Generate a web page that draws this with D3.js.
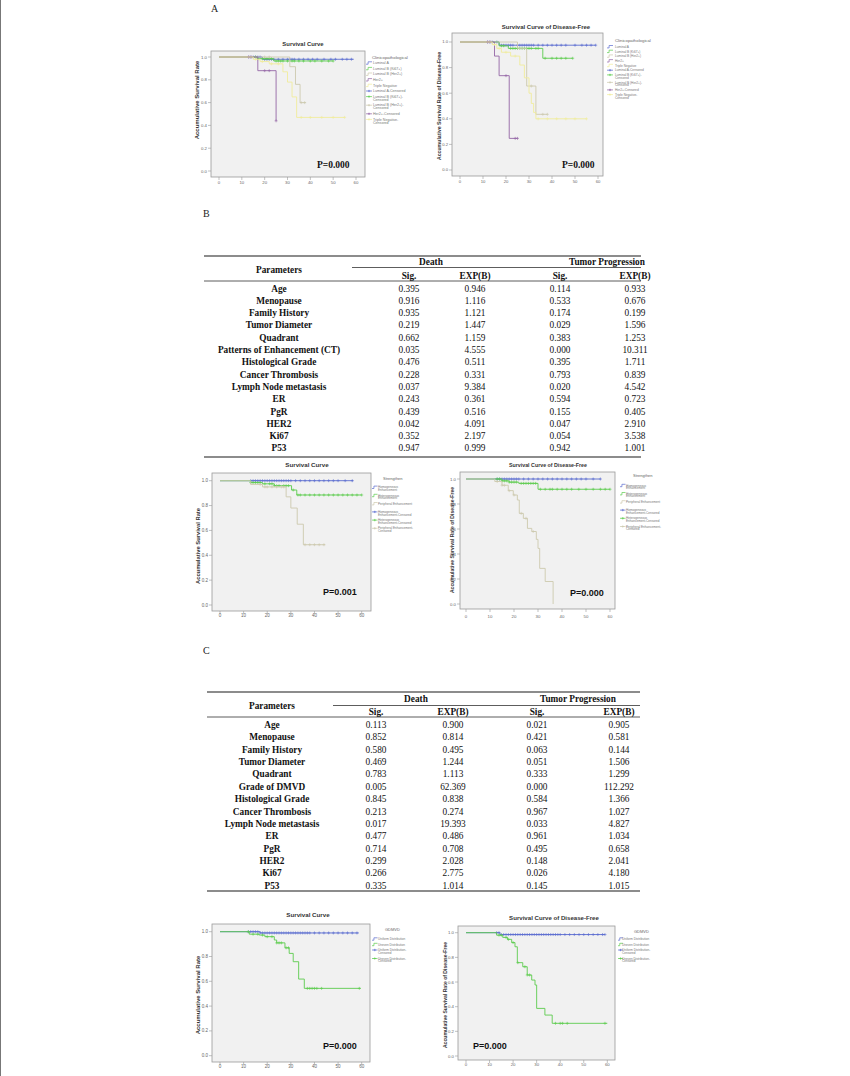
<!DOCTYPE html>
<html><head><meta charset="utf-8">
<script src="https://cdn.jsdelivr.net/npm/d3@7"></script>
<style>body{margin:0;background:#fff} svg{display:block}</style>
</head><body>
<script>
// ---------------- DATA ----------------
const xTicks = [0,10,20,30,40,50,60];
const yTicks = [0,0.2,0.4,0.6,0.8,1.0];
const yTickLabels = ['0.0','0.2','0.4','0.6','0.8','1.0'];

// Panel A – molecular subtypes
const legendA = [['Luminal A'],['Luminal B (Ki67+)'],['Luminal B (Her2+)'],['Her2+'],['Triple Negative'],
  ['Luminal A-Censored'],['Luminal B (Ki67+)-','Censored'],['Luminal B (Her2+)-','Censored'],['Her2+-Censored'],['Triple Negative-','Censored']];
// Survival (death)
const a1LumA   = [[0,1],[19,0.98]];             const a1LumAEnd = 59;
const a1LumB67 = [[0,1],[17,0.985],[24,0.965]]; const a1LumB67End = 50;
const a1LumBH  = [[0,1],[31,0.915],[33.5,0.76],[35.5,0.60]]; const a1LumBHEnd = 38;
const a1Her2   = [[0,1],[17,0.88],[25,0.44]];   const a1Her2End = 25;
const a1TN     = [[0,1],[15,0.98],[18,0.96],[22,0.94],[28,0.87],[30,0.78],[32,0.65],[34,0.47]]; const a1TNEnd = 55;
const a1LumACens   = [13,14,15,16,17,18,20,21,22,23,24,26,28,30,31,32,33,35,37,39,41,43,46,49,51,54,56,58];
const a1LumB67Cens = [16,17,19,20,21,22,23,25,26,27,28,30,32,33,35,37,40,42,45,48,50];
const a1LumBHCens  = [20,22,36,37.5];
const a1Her2Cens   = [13,14,20,22,25];
const a1TNCens     = [16,19,23,26,36,40,45,50,55];
// Disease-free
const a2LumA   = [[0,1],[17,0.975]];            const a2LumAEnd = 59;
const a2LumB67 = [[0,1],[17,0.97],[21,0.95],[36,0.873]]; const a2LumB67End = 49;
const a2LumBH  = [[0,1],[25,0.95],[29,0.656],[33,0.435]]; const a2LumBHEnd = 38;
const a2Her2   = [[0,1],[15,0.89],[17,0.737],[21.4,0.247]]; const a2Her2End = 25;
const a2TN     = [[0,1],[14,0.98],[16,0.95],[18,0.92],[22,0.89],[26,0.82],[28,0.72],[30,0.6],[31,0.52],[32,0.45],[33,0.40]]; const a2TNEnd = 55;
const a2LumACens   = [12,13,14,16,18,19,20,21,22,23,25,26,27,28,29,30,31,32,34,36,38,40,42,44,46,50,53,55,57,59];
const a2LumB67Cens = [18,19,22,23,24,25,26,27,28,29,30,31,33,34,37,40,42,44,46,49];
const a2LumBHCens  = [31,36,38];
const a2Her2Cens   = [12,13,20,24,25];
const a2TNCens     = [15,17,20,24,34,38,42,46,50,55];

// Panel B – enhancement patterns
const legendB = [['Homogeneous','Enhancement'],['Heterogeneous','Enhancement'],['Peripheral Enhancement'],
  ['Homogeneous','Enhancement-Censored'],['Heterogeneous','Enhancement-Censored'],['Peripheral Enhancement-','Censored']];
const b1Homo = [[0,1]]; const b1HomoEnd = 56.4;
const b1Het  = [[0,1],[13,0.985],[18,0.975],[23,0.96],[30.3,0.925],[32.5,0.885]]; const b1HetEnd = 60;
const b1Per  = [[0,1],[13,0.97],[18,0.95],[28,0.87],[30,0.78],[32.7,0.65],[35.3,0.485]]; const b1PerEnd = 44.5;
const b1HomoCens = [13,14,15,16,17,18,19,20,21,22,23,24,25,26,27,28,29,30,32,34,36,38,40,42,44,46,48,50,53,56];
const b1HetCens  = [13,14,15,16,17,19,21,22,23,24,25,27,28,29,31,33,34,36,38,40,42,44,46,48,50,52,54,56,58,60];
const b1PerCens  = [17,19,20,22,24,26,27,36,38,40,42,44];
const b2Homo = [[0,1]]; const b2HomoEnd = 56;
const b2Het  = [[0,1],[15,0.985],[18,0.975],[22,0.965],[30,0.918]]; const b2HetEnd = 60;
const b2Per  = [[0,1],[12,0.98],[15,0.95],[17.6,0.907],[19.7,0.872],[21.4,0.832],[22.2,0.725],[23.9,0.685],[25.6,0.605],[27.4,0.58],[29.3,0.517],[30,0.445],[30.7,0.285],[33,0.18],[36.3,0.0]]; const b2PerEnd = 36.3;
const b2HomoCens = [13,14,15,16,17,18,19,20,21,22,24,26,28,30,32,34,36,38,40,42,44,46,48,50,53,56];
const b2HetCens  = [13,14,15,16,17,18,19,20,21,23,24,25,26,27,28,29,31,33,35,36,38,40,42,44,47,50,53,56,58,60];
const b2PerCens  = [13,15,16,18,20,23,25,28];

// Panel C – GDMVD
const legendC = [['Uniform Distribution'],['Uneven Distribution'],['Uniform Distribution-','Censored'],['Uneven Distribution-','Censored']];
const c1Uni = [[0,1],[17,0.99]]; const c1UniEnd = 58.7;
const c1Unev = [[0,1],[12.4,0.98],[16.6,0.973],[19,0.96],[23,0.933],[24,0.91],[27.5,0.87],[29.3,0.825],[31,0.758],[33.3,0.618],[35.7,0.543]]; const c1UnevEnd = 59.6;
const c1UniCens  = [12,13,14,15,16,17,18,19,20,21,22,23,24,25,26,27,28,29,30,31,32,33,34,35,36,37,38,40,42,44,46,48,50,52,54,56,58];
const c1UnevCens = [12,14,16,18,20,22,24,25,26,28,29,37,38,39,40,41,43,59];
const c2Uni = [[0,1],[14.4,0.985]]; const c2UniEnd = 59;
const c2Unev = [[0,1],[13,0.98],[15.6,0.962],[17.6,0.946],[19.4,0.92],[20.8,0.886],[21.8,0.757],[24.1,0.724],[26,0.657],[27.9,0.616],[29.3,0.576],[30,0.386],[33.5,0.332],[36.6,0.265]]; const c2UnevEnd = 60;
const c2UniCens  = [13,14,15,16,17,18,19,20,21,22,23,24,25,26,27,28,29,30,31,32,33,34,35,36,37,38,39,40,42,44,46,48,50,52,54,56,58,59];
const c2UnevCens = [14,15,17,18,20,22,25,26,27,38,40,41,43,59];

// Tables
const tableHeaders = ['Parameters','Death','Tumor Progression','Sig.','EXP(B)'];
const tbParams  = ['Age','Menopause','Family History','Tumor Diameter','Quadrant','Patterns of Enhancement (CT)','Histological Grade','Cancer Thrombosis','Lymph Node metastasis','ER','PgR','HER2','Ki67','P53'];
const tbDeathSig = ['0.395','0.916','0.935','0.219','0.662','0.035','0.476','0.228','0.037','0.243','0.439','0.042','0.352','0.947'];
const tbDeathExp = ['0.946','1.116','1.121','1.447','1.159','4.555','0.511','0.331','9.384','0.361','0.516','4.091','2.197','0.999'];
const tbProgSig  = ['0.114','0.533','0.174','0.029','0.383','0.000','0.395','0.793','0.020','0.594','0.155','0.047','0.054','0.942'];
const tbProgExp  = ['0.933','0.676','0.199','1.596','1.253','10.311','1.711','0.839','4.542','0.723','0.405','2.910','3.538','1.001'];
const tcParams  = ['Age','Menopause','Family History','Tumor Diameter','Quadrant','Grade of DMVD','Histological Grade','Cancer Thrombosis','Lymph Node metastasis','ER','PgR','HER2','Ki67','P53'];
const tcDeathSig = ['0.113','0.852','0.580','0.469','0.783','0.005','0.845','0.213','0.017','0.477','0.714','0.299','0.266','0.335'];
const tcDeathExp = ['0.900','0.814','0.495','1.244','1.113','62.369','0.838','0.274','19.393','0.486','0.708','2.028','2.775','1.014'];
const tcProgSig  = ['0.021','0.421','0.063','0.051','0.333','0.000','0.584','0.967','0.033','0.961','0.495','0.148','0.026','0.145'];
const tcProgExp  = ['0.905','0.581','0.144','1.506','1.299','112.292','1.366','1.027','4.827','1.034','0.658','2.041','4.180','1.015'];

// ---------------- STYLE ----------------
const BLUE='#5a6cd0', GREEN='#5ccc4e', BEIGE='#cdc9ae', PURPLE='#9466a6', YELLOW='#f0ec9c';
const SANS='"Liberation Sans", Arial, sans-serif', SERIF='"Liberation Serif", "Times New Roman", serif';

const svg = d3.select('body').append('svg').attr('width',850).attr('height',1076);
svg.append('rect').attr('width',850).attr('height',1076).attr('fill','#fff');
svg.append('line').attr('x1',0.5).attr('x2',0.5).attr('y1',0).attr('y2',1076).attr('stroke','#777').attr('stroke-width',1);

// panel letters
[['A',211,12],['B',203,217],['C',203,654]].forEach(([t,x,y])=>{
  svg.append('text').attr('x',x).attr('y',y).attr('font-family',SERIF).attr('font-size',10).attr('fill','#222').text(t);
});

function drawKM(cfg, series) {
  const g = svg.append('g');
  const [fx1,fy1,fx2,fy2] = cfg.frame;
  const x = d3.scaleLinear().domain([0,60]).range(cfg.xr);
  const y = d3.scaleLinear().domain([0,1]).range(cfg.yr);
  g.append('rect').attr('x',fx1).attr('y',fy1).attr('width',fx2-fx1).attr('height',fy2-fy1)
    .attr('fill','#f1f1f1').attr('stroke','#999').attr('stroke-width',0.8);
  yTicks.forEach((v,i)=>{
    g.append('line').attr('x1',fx1-3).attr('x2',fx1).attr('y1',y(v)).attr('y2',y(v)).attr('stroke','#999').attr('stroke-width',0.6);
    g.append('text').attr('x',fx1-4).attr('y',y(v)).attr('dy','0.35em').attr('text-anchor','end')
      .attr('font-family',SANS).attr('font-size',cfg.tickSize).attr('fill','#666').text(yTickLabels[i]);
  });
  xTicks.forEach(v=>{
    g.append('line').attr('x1',x(v)).attr('x2',x(v)).attr('y1',fy2).attr('y2',fy2+3).attr('stroke','#999').attr('stroke-width',0.6);
    g.append('text').attr('x',x(v)).attr('y',cfg.xLabY).attr('text-anchor','middle')
      .attr('font-family',SANS).attr('font-size',cfg.tickSize).attr('fill','#666').text(v);
  });
  g.append('text').attr('x',cfg.titleX).attr('y',cfg.titleY).attr('text-anchor','middle')
    .attr('font-family',SANS).attr('font-weight','bold').attr('font-size',cfg.titleSize).attr('fill','#333').text(cfg.title);
  g.append('text').attr('transform',`translate(${cfg.ylabX},${cfg.ylabY}) rotate(-90)`).attr('text-anchor','middle')
    .attr('font-family',SANS).attr('font-weight','bold').attr('font-size',cfg.ylabSize).attr('fill','#333').text(cfg.ylab);
  const line = d3.line().x(d=>x(d[0])).y(d=>y(d[1])).curve(d3.curveStepAfter);
  const bis = d3.bisector(d=>d[0]).right;
  series.forEach(s=>{
    const pts = s.steps.concat([[s.end, s.steps[s.steps.length-1][1]]]);
    g.append('path').attr('d',line(pts)).attr('fill','none').attr('stroke',s.color).attr('stroke-width',0.9);
    s.cens.forEach(t=>{
      const v = s.steps[Math.max(0,bis(s.steps,t)-1)][1];
      const cx = x(t), cy = y(v);
      g.append('path').attr('d',`M${cx-1.5},${cy}H${cx+1.5}M${cx},${cy-1.5}V${cy+1.5}`)
        .attr('stroke',s.color).attr('stroke-width',0.6);
    });
  });
  g.append('text').attr('x',cfg.pX).attr('y',cfg.pY).attr('font-family',cfg.pFont).attr('font-weight','bold')
    .attr('font-size',cfg.pSize).attr('fill','#111').text(cfg.pText);
  const L = cfg.legend;
  g.append('text').attr('x',L.titleX).attr('y',L.titleY).attr('dy','0.35em').attr('font-family',SANS)
    .attr('font-size',L.titleSize).attr('fill','#666').text(L.title);
  let yy = L.y0;
  L.labels.forEach((lines,i)=>{
    const col = L.colors[i], cens = L.censored[i];
    if (cens) {
      g.append('path').attr('d',`M${L.symX},${yy}h${L.symW}`).attr('stroke',col).attr('stroke-width',0.7);
      const mx = L.symX+L.symW/2;
      g.append('path').attr('d',`M${mx-1.2},${yy}H${mx+1.2}M${mx},${yy-1.2}V${yy+1.2}`).attr('stroke',col).attr('stroke-width',0.6);
    } else {
      g.append('path').attr('d',`M${L.symX},${yy+1.2}h${L.symW*0.35}v-2.4h${L.symW*0.65}`).attr('fill','none').attr('stroke',col).attr('stroke-width',0.7);
    }
    lines.forEach((t,j)=>{
      g.append('text').attr('x',L.textX).attr('y',yy+j*L.lineStep).attr('dy','0.35em').attr('font-family',SANS)
        .attr('font-size',L.size).attr('fill','#777').text(t);
    });
    yy += L.step + (lines.length-1)*L.extra;
  });
}

const colA = [BLUE,GREEN,BEIGE,PURPLE,YELLOW,BLUE,GREEN,BEIGE,PURPLE,YELLOW];
const censA = [0,0,0,0,0,1,1,1,1,1];
const colB = [BLUE,GREEN,BEIGE,BLUE,GREEN,BEIGE];
const censB = [0,0,0,1,1,1];
const colC = [BLUE,GREEN,BLUE,GREEN];
const censC = [0,0,1,1];

drawKM({frame:[211,51,365,177], xr:[219,356], yr:[171,57], tickSize:4.3, xLabY:184,
  title:'Survival Curve', titleX:303, titleY:46, titleSize:5.9,
  ylab:'Accumulative Survival Rate', ylabX:199, ylabY:100, ylabSize:6,
  pText:'P=0.000', pX:317, pY:167.5, pFont:SERIF, pSize:9.5,
  legend:{title:'Clinicopathological', titleX:372, titleY:57, titleSize:4.3, labels:legendA, colors:colA, censored:censA,
    symX:366, symW:6, textX:373, y0:63, step:5.6, extra:3, lineStep:3, size:3.6}},
  [{steps:a1LumA,end:a1LumAEnd,cens:a1LumACens,color:BLUE},
   {steps:a1LumB67,end:a1LumB67End,cens:a1LumB67Cens,color:GREEN},
   {steps:a1LumBH,end:a1LumBHEnd,cens:a1LumBHCens,color:BEIGE},
   {steps:a1Her2,end:a1Her2End,cens:a1Her2Cens,color:PURPLE},
   {steps:a1TN,end:a1TNEnd,cens:a1TNCens,color:YELLOW}]);

drawKM({frame:[452,33,603,176], xr:[460,598], yr:[170,42], tickSize:4.2, xLabY:182.5,
  title:'Survival Curve of Disease-Free', titleX:546, titleY:29, titleSize:6,
  ylab:'Accumulative Survival Rate of Disease-Free', ylabX:441, ylabY:106, ylabSize:5.2,
  pText:'P=0.000', pX:562, pY:168, pFont:SERIF, pSize:9.5,
  legend:{title:'Clinicopathological', titleX:615, titleY:40, titleSize:4.3, labels:legendA, colors:colA, censored:censA,
    symX:607, symW:6, textX:615, y0:46.7, step:4.7, extra:2.8, lineStep:2.8, size:3.2}},
  [{steps:a2LumA,end:a2LumAEnd,cens:a2LumACens,color:BLUE},
   {steps:a2LumB67,end:a2LumB67End,cens:a2LumB67Cens,color:GREEN},
   {steps:a2LumBH,end:a2LumBHEnd,cens:a2LumBHCens,color:BEIGE},
   {steps:a2Her2,end:a2Her2End,cens:a2Her2Cens,color:PURPLE},
   {steps:a2TN,end:a2TNEnd,cens:a2TNCens,color:YELLOW}]);

drawKM({frame:[212,473,371,611], xr:[220,361.7], yr:[605,480.7], tickSize:4.5, xLabY:617,
  title:'Survival Curve', titleX:307, titleY:467, titleSize:6.2,
  ylab:'Accumulative Survival Rate', ylabX:200, ylabY:546, ylabSize:5.8,
  pText:'P=0.001', pX:323, pY:595, pFont:SANS, pSize:9,
  legend:{title:'Strengthen', titleX:383, titleY:478.3, titleSize:4, labels:legendB, colors:colB, censored:censB,
    symX:372, symW:5.5, textX:378, y0:487.3, step:8.2, extra:0, lineStep:2.7, size:3.1}},
  [{steps:b1Homo,end:b1HomoEnd,cens:b1HomoCens,color:BLUE},
   {steps:b1Het,end:b1HetEnd,cens:b1HetCens,color:GREEN},
   {steps:b1Per,end:b1PerEnd,cens:b1PerCens,color:BEIGE}]);

drawKM({frame:[460,472,615,609], xr:[466,610], yr:[604,479], tickSize:4.3, xLabY:617.5,
  title:'Survival Curve of Disease-Free', titleX:548, titleY:467, titleSize:5.3,
  ylab:'Accumulative Survival Rate of Disease-Free', ylabX:454, ylabY:540, ylabSize:5.1,
  pText:'P=0.000', pX:570, pY:596, pFont:SANS, pSize:9,
  legend:{title:'Strengthen', titleX:633, titleY:476, titleSize:4, labels:legendB, colors:colB, censored:censB,
    symX:620, symW:5.5, textX:626, y0:485.5, step:8.2, extra:0, lineStep:2.7, size:3.1}},
  [{steps:b2Homo,end:b2HomoEnd,cens:b2HomoCens,color:BLUE},
   {steps:b2Het,end:b2HetEnd,cens:b2HetCens,color:GREEN},
   {steps:b2Per,end:b2PerEnd,cens:b2PerCens,color:BEIGE}]);

drawKM({frame:[212,924,370,1062], xr:[220,361.7], yr:[1055.7,931.7], tickSize:4.5, xLabY:1067.5,
  title:'Survival Curve', titleX:308, titleY:917, titleSize:6.2,
  ylab:'Accumulative Survival Rate', ylabX:200, ylabY:995, ylabSize:6,
  pText:'P=0.000', pX:323, pY:1049, pFont:SANS, pSize:9,
  legend:{title:'GDMVD', titleX:385, titleY:929.3, titleSize:4, labels:legendC, colors:colC, censored:censC,
    symX:372, symW:5.5, textX:378, y0:939, step:5.5, extra:3, lineStep:2.8, size:3.1}},
  [{steps:c1Uni,end:c1UniEnd,cens:c1UniCens,color:BLUE},
   {steps:c1Unev,end:c1UnevEnd,cens:c1UnevCens,color:GREEN}]);

drawKM({frame:[458,926,615,1060], xr:[466,607.3], yr:[1056,932.7], tickSize:4.3, xLabY:1065.5,
  title:'Survival Curve of Disease-Free', titleX:554, titleY:920, titleSize:6.1,
  ylab:'Accumulative Survival Rate of Disease-Free', ylabX:447, ylabY:995, ylabSize:5.1,
  pText:'P=0.000', pX:473, pY:1049, pFont:SANS, pSize:9,
  legend:{title:'GDMVD', titleX:634, titleY:931.7, titleSize:4, labels:legendC, colors:colC, censored:censC,
    symX:618, symW:5, textX:622, y0:939, step:5.5, extra:3, lineStep:2.8, size:3.1}},
  [{steps:c2Uni,end:c2UniEnd,cens:c2UniCens,color:BLUE},
   {steps:c2Unev,end:c2UnevEnd,cens:c2UnevCens,color:GREEN}]);

// ---------------- TABLES ----------------
function drawTable(cfg, params, cols) {
  const g = svg.append('g').attr('font-family',SERIF).attr('fill','#111');
  const rowY = d3.scalePoint().domain(d3.range(params.length)).range([cfg.row0, cfg.row0 + (params.length-1)*cfg.rowStep]);
  const fs = cfg.fs;
  g.append('line').attr('x1',cfg.left).attr('x2',cfg.right).attr('y1',cfg.top).attr('y2',cfg.top).attr('stroke','#666').attr('stroke-width',1.6);
  g.append('line').attr('x1',cfg.hdrLineX).attr('x2',cfg.right).attr('y1',cfg.hdrLineY).attr('y2',cfg.hdrLineY).attr('stroke','#333').attr('stroke-width',0.8);
  g.append('line').attr('x1',cfg.left).attr('x2',cfg.right).attr('y1',cfg.subLineY).attr('y2',cfg.subLineY).attr('stroke','#333').attr('stroke-width',0.8);
  g.append('line').attr('x1',cfg.left).attr('x2',cfg.right).attr('y1',cfg.bottom).attr('y2',cfg.bottom).attr('stroke','#666').attr('stroke-width',1.6);
  const txt = (x,y,t,bold)=>g.append('text').attr('x',x).attr('y',y).attr('dy','0.35em').attr('text-anchor','middle')
      .attr('font-size',fs).attr('font-weight',bold?'bold':'normal').text(t);
  txt(cfg.paramX, cfg.paramY, tableHeaders[0], true);
  txt(cfg.deathX, cfg.grpY, tableHeaders[1], true);
  txt(cfg.progX, cfg.grpY, tableHeaders[2], true);
  cfg.colX.forEach((cx,i)=>txt(cx, cfg.subY, tableHeaders[3 + (i%2)], true));
  params.forEach((p,i)=>{
    txt(cfg.paramX, rowY(i), p, true);
    cols.forEach((c,j)=>txt(cfg.colX[j], rowY(i), c[i], false));
  });
}

drawTable({left:204,right:641,top:256,hdrLineX:352,hdrLineY:267.5,subLineY:281,bottom:457,
  paramX:279,paramY:269.5,deathX:431,progX:607,grpY:262,subY:275.5,colX:[409,475,560,635],
  row0:288.3,rowStep:12.3,fs:9.3},
  tbParams,[tbDeathSig,tbDeathExp,tbProgSig,tbProgExp]);

drawTable({left:207,right:640,top:692,hdrLineX:333,hdrLineY:705.5,subLineY:717,bottom:891,
  paramX:272,paramY:706,deathX:416,progX:578,grpY:699,subY:712,colX:[376,453,537,619],
  row0:724.8,rowStep:12.35,fs:9.3},
  tcParams,[tcDeathSig,tcDeathExp,tcProgSig,tcProgExp]);
</script>
</body></html>
